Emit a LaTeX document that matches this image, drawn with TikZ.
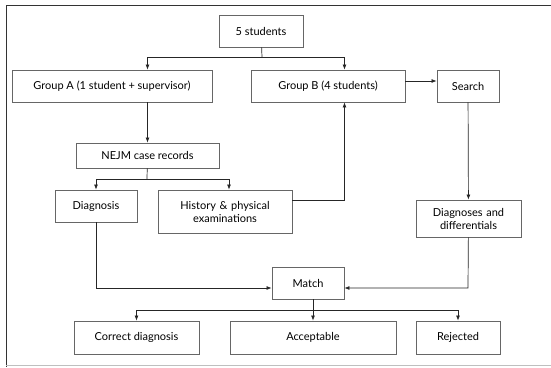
\documentclass[tikz,border=0pt]{standalone}
\usepackage{fontspec}
\setmainfont{Lato}
\usetikzlibrary{arrows.meta}

\begin{document}
\begin{tikzpicture}[x=1pt, y=-1pt, font=\fontsize{11}{13}\selectfont]
      \tikzset{
	  stepbox/.style={rectangle, draw=black!60, line width=0.9pt, inner sep=0pt, text centered, text=black},
	  link/.style={draw=black!85, line width=0.7pt},
	  arrow/.style={link, -{Latex[length=5pt, width=4pt]}}
      }

      \useasboundingbox (0,0) rectangle (551,367);
      % frame, cut at the right edge
      \draw[black!80, line width=1pt] (551,5) -- (6,5) -- (6,367);
      \draw[black!25, line width=0.5pt] (6,365.5) -- (551,365.5);

      \node[stepbox, minimum width=84pt, minimum height=32pt] (stud) at (261,31) {5 students};
      \node[stepbox, minimum width=200pt, minimum height=32pt] (grpA) at (112,86) {Group A (1 student + supervisor)};
      \node[stepbox, minimum width=154pt, minimum height=32pt] (grpB) at (328,86) {Group B (4 students)};
      \node[stepbox, minimum width=62pt, minimum height=32pt] (search) at (468,86) {Search};
      \node[stepbox, minimum width=143pt, minimum height=25pt] (nejm) at (147.5,155.5) {NEJM case records};
      \node[stepbox, minimum width=82pt, minimum height=32pt] (diag) at (96,206) {Diagnosis};
      \node[stepbox, minimum width=134pt, minimum height=43pt, text width=120pt, align=center] (hist) at (225,211.5) {History \& physical\\examinations};
      \node[stepbox, minimum width=105pt, minimum height=37pt, text width=100pt, align=center] (ddx) at (468.5,218.5) {Diagnoses and\\differentials};
      \node[stepbox, minimum width=72pt, minimum height=32pt] (match) at (308,283) {Match};
      \node[stepbox, minimum width=125pt, minimum height=33pt] (correct) at (136.5,337.5) {Correct diagnosis};
      \node[stepbox, minimum width=166pt, minimum height=33pt] (accept) at (313,337.5) {Acceptable};
      \node[stepbox, minimum width=84pt, minimum height=33pt] (reject) at (458,337.5) {Rejected};

      \coordinate (split1) at (262,57);
      \coordinate (split2) at (147,179);
      \coordinate (split3) at (313,310);
      \coordinate (bturn) at (344.5,200);
      \coordinate (leftin) at (96,288);
      \coordinate (rightin) at (468,288);

      \draw[link] (stud) -- (split1);
      \draw[arrow] (split1) -| (grpA.north -| nejm);
      \draw[arrow] (split1) -| (grpB.north -| bturn);
      \draw[arrow] ([yshift=5pt]grpB.east) -- ([yshift=5pt]search.west);
      \draw[arrow] (grpA.south -| nejm) -- (nejm);
      \draw[link] (nejm) -- (split2);
      \draw[arrow] (split2) -| (diag);
      \draw[arrow] (split2) -| (hist.north -| 229,0);
      \draw[arrow] (hist.east |- bturn) -- (bturn) -- (grpB.south -| bturn);
      \draw[arrow] (search) -- (ddx);
      \draw[arrow] (diag) -- (leftin) -- (match.west |- leftin);
      \draw[arrow] (ddx) -- (rightin) -- (match.east |- rightin);
      \draw[link] (match.south -| split3) -- (split3);
      \draw[arrow] (split3) -| (correct);
      \draw[arrow] (split3) -- (accept);
      \draw[arrow] (split3) -| (reject);
\end{tikzpicture}
\end{document}
